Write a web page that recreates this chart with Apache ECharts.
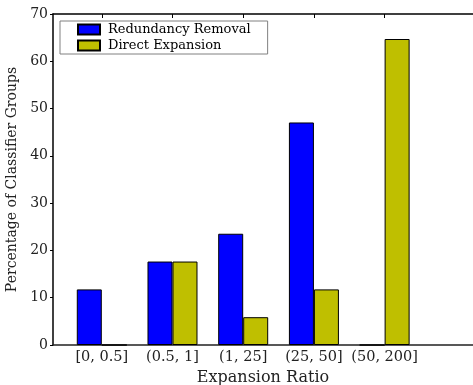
<!DOCTYPE html>
<html>
<head>
<meta charset="utf-8">
<script src="https://cdn.jsdelivr.net/npm/echarts@6/dist/echarts.min.js"></script>
<style>
  html, body { margin: 0; padding: 0; background: #fff; }
  #chart { width: 473px; height: 385px; }
</style>
</head>
<body>
<div id="chart"></div>
<script>
// Expansion-ratio buckets and the share of classifier groups in each
const categories = ['[0, 0.5]', '(0.5, 1]', '(1, 25]', '(25, 50]', '(50, 200]'];
const redundancyRemoval = [11.76, 17.65, 23.53, 47.06, 0];
const directExpansion = [0, 17.65, 5.88, 11.76, 64.71];
const yTicks = [0, 10, 20, 30, 40, 50, 60, 70];

const FONT = 'DejaVu Serif';
const catIndex = categories.map((_, i) => i);
const X_MIN = -0.69;
const X_MAX = 5.25;

const chart = echarts.init(document.getElementById('chart'), null, { renderer: 'canvas' });

const barStyle = (color) => ({ color: color, borderColor: '#000', borderWidth: 1 });

chart.setOption({
  animation: false,
  backgroundColor: '#fff',
  grid: { left: 53, top: 14, right: 0, bottom: 40, containLabel: false, outerBoundsMode: 'none' },
  legend: {
    orient: 'vertical',
    left: 60,
    top: 21,
    padding: [2, 17, 2, 17],
    itemGap: 3,
    itemWidth: 22,
    itemHeight: 10,
    borderColor: '#808080',
    borderWidth: 1,
    backgroundColor: '#fff',
    icon: 'rect',
    textStyle: { fontFamily: FONT, fontSize: 13, color: '#000', padding: [0, 0, 0, 3] },
    data: ['Redundancy Removal', 'Direct Expansion']
  },
  xAxis: [
    {
      type: 'value',
      position: 'bottom',
      min: X_MIN,
      max: X_MAX,
      splitLine: { show: false },
      axisLine: { show: true, onZero: false, lineStyle: { color: '#222', width: 1.5 } },
      axisTick: { show: false },
      axisLabel: {
        customValues: catIndex,
        formatter: (v) => categories[Math.round(v)],
        fontFamily: FONT, fontSize: 14.5, color: '#222', margin: 5
      },
      name: 'Expansion Ratio',
      nameLocation: 'middle',
      nameGap: 22,
      nameTextStyle: { fontFamily: FONT, fontSize: 16, color: '#222' }
    },
    {
      type: 'value',
      position: 'top',
      min: X_MIN,
      max: X_MAX,
      splitLine: { show: false },
      axisLine: { show: true, onZero: false, lineStyle: { color: '#000', width: 1.5 } },
      axisTick: { show: true, inside: true, length: 4, customValues: catIndex, lineStyle: { color: '#000' } },
      axisLabel: { show: false }
    }
  ],
  yAxis: {
    type: 'value',
    min: 0,
    max: 70,
    interval: 10,
    splitLine: { show: false },
    axisLine: { show: true, onZero: false, lineStyle: { color: '#000', width: 1.5 } },
    axisTick: { show: true, length: 3, lineStyle: { color: '#000' } },
    axisLabel: {
      formatter: (v) => (yTicks.includes(v) ? String(v) : ''),
      fontFamily: FONT, fontSize: 14, color: '#222', margin: 5
    },
    name: 'Percentage of Classifier Groups',
    nameLocation: 'middle',
    nameGap: 20,
    nameTextStyle: { fontFamily: FONT, fontSize: 14, color: '#222' }
  },
  series: [
    {
      name: 'Redundancy Removal',
      type: 'bar',
      xAxisIndex: 0,
      barWidth: 25,
      barGap: '0%',
      itemStyle: barStyle('#0000ff'),
      data: catIndex.map((i) => [i, redundancyRemoval[i]])
    },
    {
      name: 'Direct Expansion',
      type: 'bar',
      xAxisIndex: 0,
      barWidth: 25,
      barGap: '0%',
      itemStyle: barStyle('#bfbf00'),
      data: catIndex.map((i) => [i, directExpansion[i]])
    }
  ]
});
</script>
</body>
</html>
